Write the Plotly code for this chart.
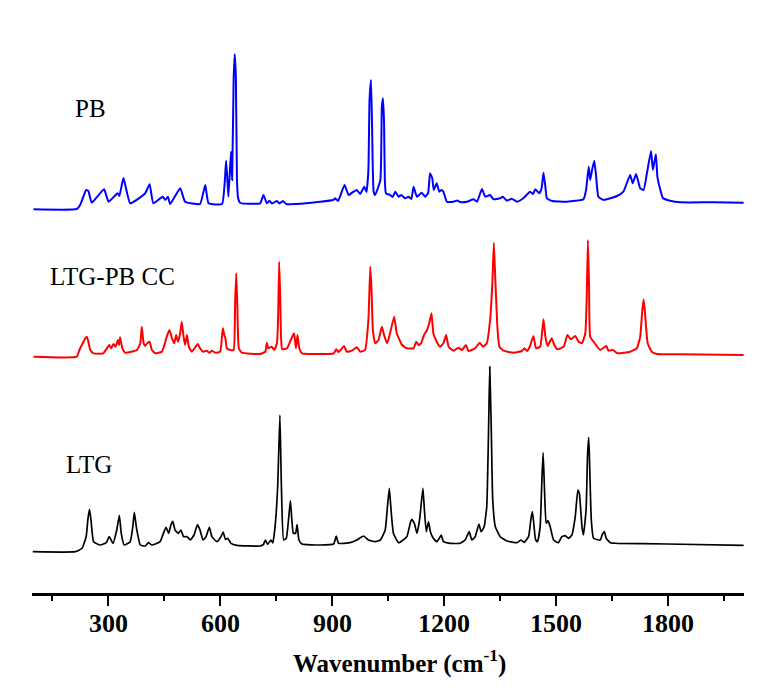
import plotly.graph_objects as go

# ---- PB spectrum (wavenumber, intensity a.u.) ----
pb_wn = [100, 216, 225, 241, 247, 256, 289, 301, 325, 330,
         341, 359, 399, 411, 421, 446, 453, 460, 466, 493,
         506, 546, 560, 569, 605, 616, 622, 629, 632, 636,
         639, 642, 645, 648, 654, 707, 716, 725, 732, 739,
         752, 759, 768, 777, 830, 903, 908, 916, 933, 944,
         957, 966, 975, 986, 992, 997, 1000, 1004, 1007, 1011,
         1015, 1029, 1033, 1036, 1039, 1041, 1044, 1055, 1062, 1069,
         1078, 1085, 1096, 1104, 1112, 1118, 1127, 1140, 1149, 1157,
         1162, 1168, 1172, 1176, 1180, 1187, 1193, 1198, 1207, 1225,
         1235, 1243, 1261, 1279, 1288, 1301, 1310, 1323, 1332, 1350,
         1357, 1368, 1381, 1395, 1412, 1430, 1438, 1444, 1455, 1461,
         1466, 1471, 1475, 1489, 1529, 1573, 1580, 1587, 1591, 1596,
         1602, 1607, 1613, 1627, 1663, 1680, 1698, 1705, 1714, 1725,
         1734, 1743, 1754, 1759, 1767, 1771, 1779, 1786, 1805, 1832,
         1921, 2002]
pb_int = [0, 0.3, 4.3, 19.3, 18.3, 6.6, 20, 7.6, 16, 13.3,
          31.3, 6, 16, 25, 6, 12.6, 9.3, 12.6, 5.3, 21,
          7.6, 5.3, 24.3, 6, 5.3, 48.6, 12.6, 57.6, 29.3, 129.3,
          155.3, 132.3, 29.3, 11.3, 6.3, 6, 14.3, 6, 8.6, 5.8,
          8.3, 5.8, 8.3, 5.3, 6, 9.3, 11, 8.3, 24.3, 14.3,
          17.6, 19.3, 15.3, 22.6, 17.3, 39.3, 109.3, 129.3, 79.3, 17.6,
          14.3, 29.3, 102.3, 111, 86, 29.3, 16, 14.3, 12.3, 17.6,
          12.6, 14.3, 11, 12.6, 10.3, 22.6, 12.6, 16.6, 12.6, 16.3,
          36, 31.3, 19.3, 22.6, 26, 17.6, 19.3, 17.6, 7.6, 7.6,
          8.8, 7.3, 7.6, 10, 7.6, 20.3, 12.6, 14.3, 10, 11,
          12.6, 8.6, 10.6, 7.6, 11, 17.6, 15.3, 20, 16, 21.3,
          36.6, 22.6, 11, 8.3, 7.6, 10, 19.3, 42.6, 29.3, 39.3,
          48.6, 32.6, 12.6, 9.3, 13.3, 17.6, 34.3, 26, 35.3, 21,
          19.3, 36, 58.3, 39.3, 55, 32.6, 19.3, 11, 8.6, 7,
          7, 6.6]

# ---- LTG-PB CC spectrum ----
cc_wn = [100, 216, 223, 227, 232, 237, 243, 247, 252, 261,
         287, 303, 308, 314, 320, 326, 329, 332, 338, 346,
         377, 386, 390, 395, 399, 406, 411, 417, 426, 444,
         457, 464, 471, 477, 482, 487, 493, 497, 502, 506,
         511, 516, 524, 540, 546, 555, 564, 571, 578, 587,
         600, 607, 611, 614, 618, 627, 636, 640, 643, 646,
         650, 658, 707, 721, 725, 729, 738, 745, 752, 755,
         758, 761, 763, 766, 779, 789, 798, 803, 807, 812,
         819, 850, 904, 911, 917, 932, 939, 953, 966, 975,
         988, 997, 1002, 1005, 1009, 1015, 1024, 1033, 1039, 1047,
         1055, 1066, 1073, 1087, 1100, 1118, 1125, 1131, 1138, 1146,
         1154, 1160, 1166, 1171, 1180, 1189, 1198, 1205, 1212, 1225,
         1238, 1248, 1258, 1265, 1283, 1295, 1304, 1314, 1323, 1329,
         1333, 1337, 1343, 1348, 1359, 1386, 1408, 1415, 1422, 1430,
         1439, 1446, 1457, 1466, 1471, 1477, 1488, 1495, 1503, 1520,
         1530, 1539, 1551, 1560, 1569, 1578, 1582, 1585, 1588, 1591,
         1600, 1618, 1634, 1640, 1652, 1664, 1698, 1716, 1725, 1730,
         1734, 1738, 1745, 1756, 1770, 1832, 2002]
cc_int = [0, 0, 6.7, 10, 13.4, 17.4, 20, 15, 6.7, 3.4,
          3.4, 11.7, 8.4, 12.7, 10, 16.7, 11.7, 19.4, 8.4, 4,
          6.7, 13.4, 30, 13.4, 10.7, 14, 15, 6.7, 3.4, 5,
          20, 26.7, 18.4, 13.4, 21.7, 15, 23.4, 35, 20, 11.7,
          21.7, 10, 5, 12.7, 8.4, 5, 6, 4, 6, 4,
          5, 28.4, 21.7, 18.4, 8.4, 6.7, 6.7, 53.4, 83.4, 50,
          8.4, 4, 2.7, 5, 14, 8.4, 10, 6.7, 13.4, 36.7,
          95, 56.7, 20, 7.4, 8.4, 16.7, 23.4, 8.4, 21.7, 8.4,
          3.4, 2.7, 3.4, 7.4, 4.7, 10.7, 5, 6, 9.4, 5,
          6.7, 36.7, 90, 70, 26.7, 13.4, 16.7, 30, 21.7, 13.4,
          23.4, 40, 23.4, 11.7, 8.4, 8.4, 15, 11.7, 13.4, 21.7,
          26.7, 33.4, 43.4, 23.4, 15, 10, 13.4, 21.7, 10, 6,
          9, 6.7, 11.7, 5.7, 8.4, 14, 10, 13.4, 36.7, 73.4,
          114, 76.7, 26.7, 10, 6, 4, 5.7, 8.4, 5.7, 10.7,
          20.7, 8.4, 10, 37.4, 20, 10.7, 18.4, 11.7, 7.4, 10,
          21.7, 17.4, 20.7, 15, 13.4, 23.4, 63.4, 116.7, 70, 20,
          15, 6.7, 10.7, 6, 6.7, 3.4, 5, 8.4, 20, 43.4,
          57.4, 43.4, 13.4, 5, 2.7, 2.4, 1.7]

# ---- LTG spectrum ----
ltg_wn = [98, 212, 230, 241, 246, 250, 254, 261, 279, 295,
          303, 313, 323, 330, 335, 343, 359, 366, 370, 376,
          386, 399, 408, 417, 439, 448, 455, 462, 468, 473,
          479, 488, 495, 502, 511, 520, 530, 539, 546, 554,
          562, 571, 578, 591, 602, 608, 614, 620, 629, 645,
          707, 716, 721, 727, 736, 741, 747, 754, 760, 764,
          770, 777, 783, 788, 792, 796, 802, 806, 811, 819,
          868, 904, 911, 917, 948, 966, 984, 997, 1015, 1029,
          1042, 1048, 1053, 1057, 1064, 1078, 1100, 1109, 1113, 1120,
          1127, 1134, 1143, 1147, 1152, 1158, 1163, 1171, 1180, 1187,
          1192, 1198, 1216, 1243, 1256, 1267, 1274, 1283, 1293, 1299,
          1307, 1314, 1319, 1322, 1326, 1330, 1337, 1350, 1368, 1395,
          1405, 1414, 1426, 1432, 1436, 1439, 1445, 1450, 1457, 1462,
          1465, 1469, 1473, 1478, 1484, 1493, 1506, 1515, 1524, 1533,
          1542, 1551, 1558, 1562, 1569, 1573, 1580, 1584, 1587, 1589,
          1594, 1600, 1618, 1624, 1629, 1634, 1645, 1663, 1797, 2002]
ltg_int = [0, 0, 3.4, 15, 33.4, 42.4, 31.7, 10, 6.7, 9,
           15, 8.4, 21.7, 36.4, 18.4, 6.7, 10, 25, 39.4, 23.4,
           6.7, 5.7, 9, 6.7, 10, 18.4, 24.4, 18.4, 26.7, 30.4,
           21.7, 18.4, 21.7, 15, 15, 11.7, 16.7, 27, 21.7, 11.7,
           15, 24.4, 15, 10, 15, 19.7, 12.4, 13.4, 8.4, 6.4,
           5.7, 7.4, 11.7, 7.4, 11.7, 8.7, 25, 65, 136.7, 65,
           11.7, 13.4, 31.7, 51, 31.7, 18.4, 18.4, 27, 11.7, 7.7,
           6.7, 7.7, 15.7, 8.4, 9, 11.7, 15.7, 11.7, 10, 11.7,
           21.7, 45, 63.4, 45, 18.4, 9, 15, 28.4, 32.4, 28.4,
           18.4, 31.7, 63.4, 41.7, 20, 30, 20, 13.4, 10, 13.4,
           16.7, 10, 8.4, 8.4, 11.7, 20, 11.7, 15, 27.7, 20,
           25, 45, 125, 185, 125, 51.7, 25, 15, 10.7, 9,
           11.7, 9.4, 15, 31.7, 40, 31.7, 11.7, 10, 25, 75,
           99, 58.4, 28.4, 31, 25, 11.7, 9, 15, 16, 13.4,
           16.7, 35, 61.7, 58.4, 25, 16.7, 41.7, 96.7, 114.4, 95,
           31.7, 13.4, 11.7, 17.7, 20, 13.4, 9, 8.4, 7.7, 6.4]

names = ["LTG", "LTG-PB CC", "PB"]
offsets = [41.3, 236.3, 383.7]
colors = ["#000000", "#ff0000", "#0000ff"]
widths = [1.7, 2.0, 2.0]
series = [(ltg_wn, ltg_int), (cc_wn, cc_int), (pb_wn, pb_int)]

# label anchor points (wavenumber, height)
label_x = [182, 138, 207]
label_y = [129, 317, 485]

# x tick labels
tick_vals = [300, 600, 900, 1200, 1500, 1800]
tick_text = ["300", "600", "900", "1200", "1500", "1800"]

FONT = "Liberation Serif, Times New Roman, serif"

fig = go.Figure()
for (wn, inten), off, c, w, nm in zip(series, offsets, colors, widths, names):
    assert len(wn) == len(inten), nm
    fig.add_trace(go.Scatter(x=wn, y=[v + off for v in inten], mode="lines",
                             line=dict(color=c, width=w, shape="spline", smoothing=0.4),
                             name=nm, showlegend=False, hoverinfo="skip"))

for nm, lx, ly in zip(names, label_x, label_y):
    fig.add_annotation(x=lx, y=ly, text=nm, showarrow=False, xanchor="left",
                       yanchor="middle", font=dict(family=FONT, size=25, color="black"))

# tick labels placed just under the ticks
for tv, tt in zip(tick_vals, tick_text):
    fig.add_annotation(x=tv, xref="x", yref="paper", y=-0.0524, text=tt,
                       showarrow=False, xanchor="center", yanchor="middle",
                       font=dict(family=FONT, size=26, color="black", weight="bold"))

# axis title
fig.add_annotation(xref="paper", yref="paper", x=0.516, y=-0.1204,
                   text="Wavenumber (cm<sup>-1</sup>)", showarrow=False,
                   xanchor="center", yanchor="middle",
                   font=dict(family=FONT, size=25, color="black", weight="bold"))

fig.update_layout(
    width=769, height=698,
    margin=dict(l=32, r=25, t=20, b=105),
    paper_bgcolor="white", plot_bgcolor="white",
    xaxis=dict(range=[96, 2003], tickmode="array", tickvals=tick_vals,
               showticklabels=False,
               ticks="outside", ticklen=10, tickwidth=2, tickcolor="black",
               showline=True, linewidth=3, linecolor="black",
               showgrid=False, zeroline=False,
               minor=dict(tick0=0, dtick=150, ticks="outside", ticklen=5,
                          tickwidth=2, tickcolor="black", showgrid=False)),
    yaxis=dict(range=[0, 573], visible=False, showgrid=False, zeroline=False),
)

fig.write_html("out.html")
